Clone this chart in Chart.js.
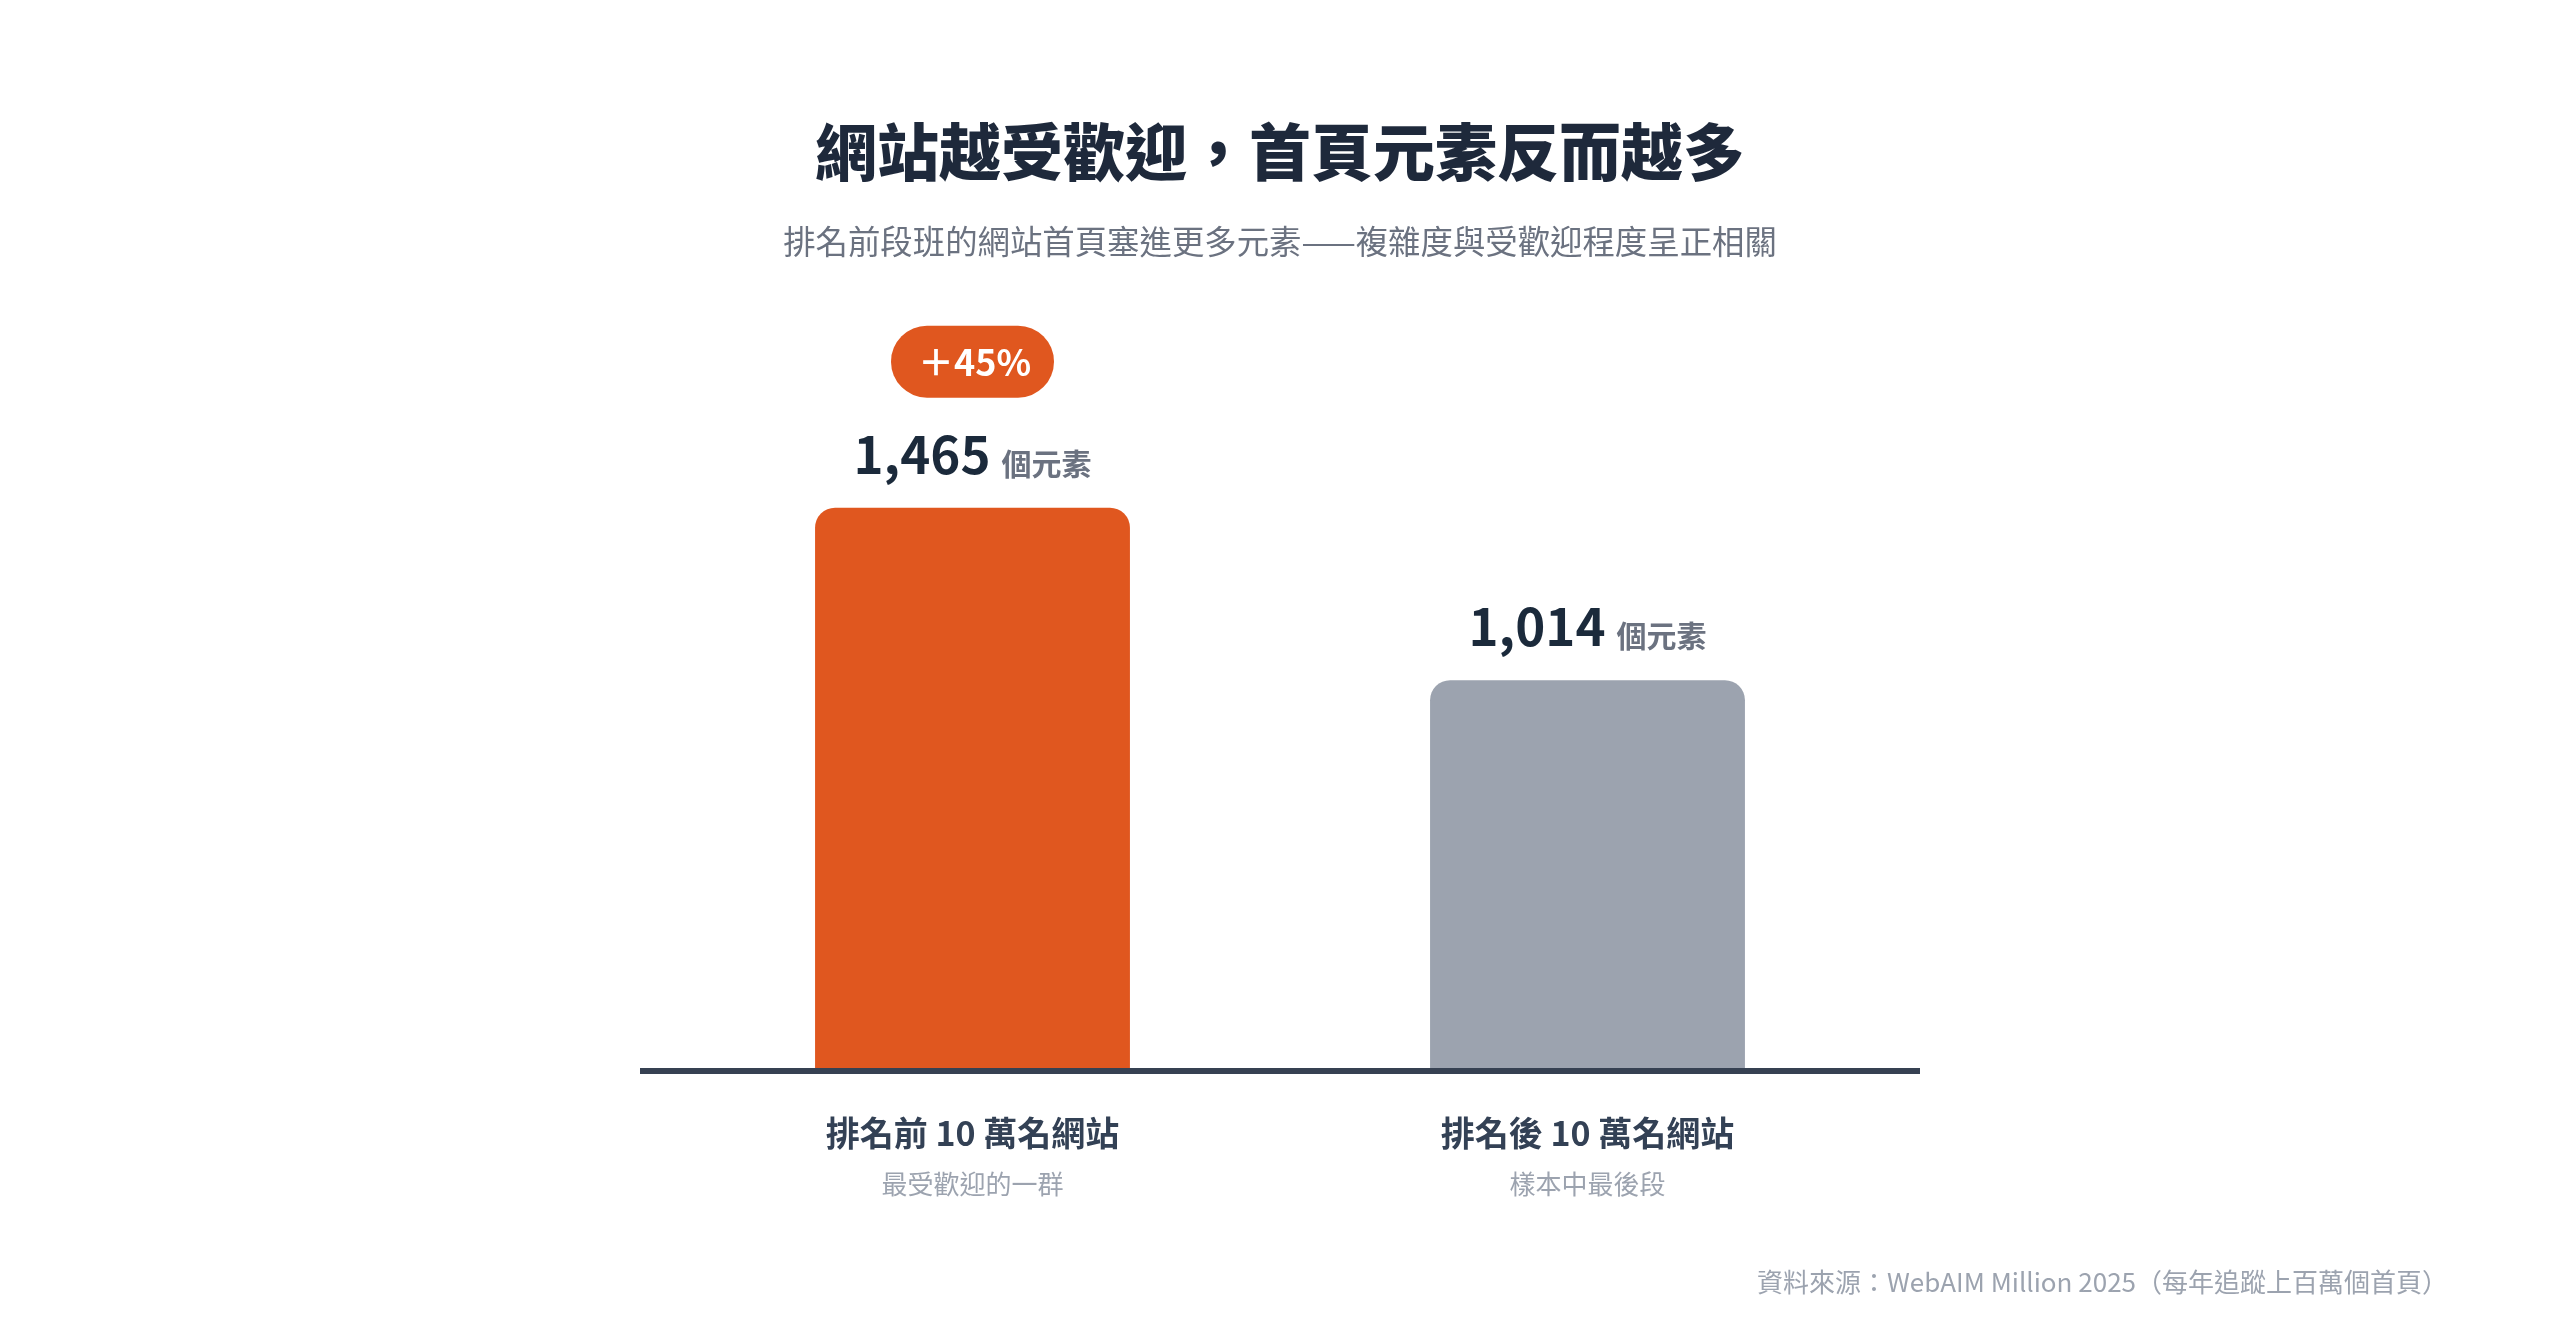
<!DOCTYPE html>
<html lang="zh-Hant">
<head>
<meta charset="utf-8">
<title>網站越受歡迎，首頁元素反而越多</title>
<script src="https://cdn.jsdelivr.net/npm/chart.js@4.4.1/dist/chart.umd.min.js"></script>
<style>
  html, body { margin: 0; padding: 0; background: #ffffff; }
  #wrap { width: 2560px; height: 1319px; position: relative; }
  canvas { display: block; }
</style>
</head>
<body>
<div id="wrap"><canvas id="elementsChart" width="2560" height="1319"></canvas></div>
<script>
// --- Dati ---
const categories = ['排名前 10 萬名網站', '排名後 10 萬名網站'];
const subLabels = ['最受歡迎的一群', '樣本中最後段'];
const elementCounts = [1465, 1014];
const barColors = ['#e0571f', '#9ca3af'];
const unitLabel = '個元素';
const badgeLabel = '＋45%'; // come nel grafico originale

const titleText = '網站越受歡迎，首頁元素反而越多';
const subtitleText = '排名前段班的網站首頁塞進更多元素——複雜度與受歡迎程度呈正相關';
const sourceText = '資料來源：WebAIM Million 2025（每年追蹤上百萬個首頁）';

const FONT = '"Noto Sans CJK TC", "Noto Sans", sans-serif';

// testo, etichette, badge e linea di base
const decorPlugin = {
  id: 'decor',
  afterDatasetsDraw(chart) {
    const c = chart.ctx;
    const area = chart.chartArea;
    const xs = chart.scales.x;
    const ys = chart.scales.y;
    const W = chart.width;

    c.save();

    // titolo e sottotitolo
    c.textAlign = 'center';
    c.textBaseline = 'middle';
    c.fillStyle = '#1e293b';
    c.font = `900 62px ${FONT}`;
    c.fillText(titleText, W / 2, 152);
    c.fillStyle = '#6b7280';
    c.font = `400 32.4px ${FONT}`;
    c.fillText(subtitleText, W / 2, 242);

    // linea di base
    const baseY = ys.getPixelForValue(0) + 3;
    c.strokeStyle = '#364152';
    c.lineWidth = 6;
    c.beginPath();
    c.moveTo(area.left - 25, baseY);
    c.lineTo(area.right + 25, baseY);
    c.stroke();

    const bars = chart.getDatasetMeta(0).data;
    bars.forEach((bar, i) => {
      // valore + unità
      const numTxt = elementCounts[i].toLocaleString('en-US');
      c.font = `700 51px ${FONT}`;
      const wNum = c.measureText(numTxt).width;
      c.font = `700 30px ${FONT}`;
      const wUnit = c.measureText(unitLabel).width;
      const gap = 11;
      const startX = bar.x - (wNum + gap + wUnit) / 2;
      const baseLine = bar.y - 34;
      c.textAlign = 'left';
      c.textBaseline = 'alphabetic';
      c.fillStyle = '#1b2a3b';
      c.font = `700 51px ${FONT}`;
      c.fillText(numTxt, startX, baseLine);
      c.fillStyle = '#6b7280';
      c.font = `700 30px ${FONT}`;
      c.fillText(unitLabel, startX + wNum + gap, baseLine + 1);

      // etichette categoria
      const cx = xs.getPixelForValue(i);
      c.textAlign = 'center';
      c.textBaseline = 'middle';
      c.fillStyle = '#334155';
      c.font = `700 34px ${FONT}`;
      c.fillText(categories[i], cx, area.bottom + 65);
      c.fillStyle = '#9ca3af';
      c.font = `400 26px ${FONT}`;
      c.fillText(subLabels[i], cx, area.bottom + 116);
    });

    // badge percentuale sopra la prima barra
    const b0 = bars[0];
    const bw = 163, bh = 72;
    const bcy = b0.y - 146;
    c.fillStyle = barColors[0];
    c.beginPath();
    c.roundRect(b0.x - bw / 2, bcy - bh / 2, bw, bh, bh / 2);
    c.fill();
    c.fillStyle = '#ffffff';
    c.font = `700 36px ${FONT}`;
    c.textAlign = 'center';
    c.textBaseline = 'alphabetic';
    c.fillText(badgeLabel, b0.x + 2, bcy + 14);

    // fonte
    c.textAlign = 'right';
    c.textBaseline = 'middle';
    c.fillStyle = '#9ca3af';
    c.font = `400 26px ${FONT}`;
    c.fillText(sourceText, W - 112, 1282);

    c.restore();
  }
};

const ctx = document.getElementById('elementsChart').getContext('2d');
const elementsChart = new Chart(ctx, {
  type: 'bar',
  data: {
    labels: categories,
    datasets: [{
      data: elementCounts,
      backgroundColor: barColors,
      borderRadius: 20,
      borderSkipped: 'start',
      categoryPercentage: 1,
      barPercentage: 0.512
    }]
  },
  options: {
    responsive: false,
    devicePixelRatio: 1,
    animation: false,
    layout: {
      padding: { left: 665, right: 665, top: 456, bottom: 251 }
    },
    scales: {
      x: { display: false },
      y: { display: false, min: 0, max: 1600 }
    },
    plugins: {
      legend: { display: false },
      tooltip: { enabled: false }
    }
  },
  plugins: [decorPlugin]
});
</script>
</body>
</html>
